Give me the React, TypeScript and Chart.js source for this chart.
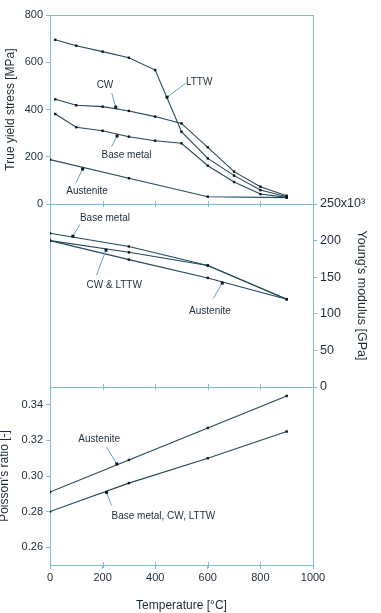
import React, { useEffect, useRef } from 'react';
import { Chart, registerables } from 'chart.js';

Chart.register(...registerables);

// ---------------- data ----------------
const temperatureYield = [20, 100, 200, 300, 400, 500, 600, 700, 800, 900];
const yieldLTTW = [695, 670, 645, 619, 567, 306, 193, 120, 59, 31];
const yieldCW = [443, 418, 412, 394, 370, 341, 240, 137, 73, 35];
const yieldBaseMetal = [381, 325, 310, 285, 268, 257, 162, 93, 42, 28];
const temperatureAustenite = [0, 300, 600, 900];
const yieldAustenite = [188, 109, 31, 27];

const temperatureModulus = [0, 300, 600, 900];
const modulusBaseMetal = [210, 192, 166, 120];
const modulusCwLttw = [200, 184, 166, 120];
const modulusAustenite = [200, 174, 149, 120];

const temperaturePoisson = [0, 300, 600, 900];
const poissonAustenite = [0.291, 0.309, 0.327, 0.345];
const poissonBaseCwLttw = [0.28, 0.296, 0.31, 0.325];

const temperatureTicks = [0, 200, 400, 600, 800, 1000];
const stressTicks = [0, 200, 400, 600, 800];
const modulusTicks = [0, 50, 100, 150, 200, 250];
const poissonTicks = [0.26, 0.28, 0.3, 0.32, 0.34];

// curve labels (in data units of the panel's axis)
const curveLabels = [
  { text: 'LTTW', axis: 'yS', at: [567, 516], from: [516, 511], to: [445, 452] },
  { text: 'CW', axis: 'yS', at: [209, 502], from: [235, 469], to: [250, 410] },
  { text: 'Base metal', axis: 'yS', at: [291, 206], from: [234, 243], to: [255, 288] },
  { text: 'Austenite', axis: 'yS', at: [141, 55], from: [99, 90], to: [124, 148] },
  { text: 'Base metal', axis: 'yY', at: [209, 230], from: [114, 222], to: [87, 206] },
  { text: 'CW & LTTW', axis: 'yY', at: [244, 138.5], from: [177, 153], to: [213, 187] },
  { text: 'Austenite', axis: 'yY', at: [608, 104], from: [621, 121], to: [655, 142] },
  { text: 'Austenite', axis: 'yP', at: [187, 0.3209], from: [215, 0.3162], to: [254, 0.3068] },
  { text: 'Base metal, CW, LTTW', axis: 'yP', at: [431, 0.2774], from: [234, 0.2834], to: [215, 0.2908] },
];

// ---------------- style ----------------
const AXIS = '#7dbde0';
const TEXT = '#1d2b3a';
const LINE = '#22485c';
const MARK = '#10161c';
const POINTER = '#5aa6d2';
const FONT = "'Liberation Sans', Arial, sans-serif";
const CLEAR = 'rgba(0,0,0,0)';

const toPoints = (xs: number[], ys: number[]) => xs.map((x, i) => ({ x, y: ys[i] }));

function series(label: string, xs: number[], ys: number[], yAxisID: string) {
  return {
    label,
    data: toPoints(xs, ys),
    xAxisID: 'x',
    yAxisID,
    borderColor: LINE,
    borderWidth: 1.1,
    pointStyle: 'rect',
    pointRadius: 1.7,
    pointBackgroundColor: MARK,
    pointBorderColor: MARK,
    pointBorderWidth: 0,
    tension: 0,
    fill: false,
  };
}

const fixTicks = (values: number[]) => (scale: any) => {
  scale.ticks = values.map((v) => ({ value: v }));
};
const edgeGrid = (edges: number[]) => (ctx: any) =>
  ctx.tick && edges.includes(ctx.tick.value) ? AXIS : CLEAR;

const leftWidth = (s: any) => {
  s.width = 50;
};
const rightWidth = (s: any) => {
  s.width = 68;
};

// small temperature tick marks on every panel boundary
const panelTickPlugin = {
  id: 'panelTicks',
  beforeDatasetsDraw(chart: any) {
    const { ctx } = chart;
    const xs = chart.scales.x;
    const edges = [chart.scales.yS.bottom, chart.scales.yY.bottom, chart.chartArea.bottom];
    ctx.save();
    ctx.strokeStyle = AXIS;
    ctx.lineWidth = 1;
    ctx.beginPath();
    for (const y of edges) {
      for (const t of temperatureTicks) {
        if (t === temperatureTicks[0] || t === temperatureTicks[temperatureTicks.length - 1]) continue;
        const x = Math.round(xs.getPixelForValue(t)) + 0.5;
        ctx.moveTo(x, y - 3);
        ctx.lineTo(x, y + 3);
      }
    }
    ctx.stroke();
    ctx.restore();
  },
};

const labelPlugin = {
  id: 'curveLabels',
  afterDatasetsDraw(chart: any) {
    const { ctx } = chart;
    const xs = chart.scales.x;
    ctx.save();
    for (const a of curveLabels) {
      const ys = chart.scales[a.axis];
      const fx = xs.getPixelForValue(a.from[0]);
      const fy = ys.getPixelForValue(a.from[1]);
      const tx = xs.getPixelForValue(a.to[0]);
      const ty = ys.getPixelForValue(a.to[1]);
      ctx.strokeStyle = POINTER;
      ctx.lineWidth = 1;
      ctx.beginPath();
      ctx.moveTo(fx, fy);
      ctx.lineTo(tx, ty);
      ctx.stroke();
      ctx.fillStyle = MARK;
      ctx.fillRect(tx - 1.5, ty - 1.5, 3, 3);
      ctx.fillStyle = TEXT;
      ctx.font = `10px ${FONT}`;
      ctx.textAlign = 'center';
      ctx.textBaseline = 'middle';
      ctx.fillText(a.text, xs.getPixelForValue(a.at[0]), ys.getPixelForValue(a.at[1]));
    }
    ctx.restore();
  },
};

export default function App() {
  const ref = useRef<HTMLCanvasElement>(null);

  useEffect(() => {
    const canvas = ref.current;
    if (!canvas) return;
    const tickFont = { family: FONT, size: 11 };
    const chart = new Chart(canvas, {
      type: 'line',
      data: {
        datasets: [
          series('LTTW', temperatureYield, yieldLTTW, 'yS'),
          series('CW', temperatureYield, yieldCW, 'yS'),
          series('Base metal', temperatureYield, yieldBaseMetal, 'yS'),
          series('Austenite', temperatureAustenite, yieldAustenite, 'yS'),
          series('Base metal E', temperatureModulus, modulusBaseMetal, 'yY'),
          series('CW & LTTW E', temperatureModulus, modulusCwLttw, 'yY'),
          series('Austenite E', temperatureModulus, modulusAustenite, 'yY'),
          series('Austenite nu', temperaturePoisson, poissonAustenite, 'yP'),
          series('Base metal, CW, LTTW nu', temperaturePoisson, poissonBaseCwLttw, 'yP'),
        ] as any,
      },
      options: {
        responsive: false,
        animation: false,
        devicePixelRatio: 1,
        layout: { padding: { top: 15, left: 0, right: 0, bottom: 0 } },
        plugins: {
          legend: { display: false },
          tooltip: { enabled: false },
        },
        scales: {
          x: {
            type: 'linear',
            position: 'bottom',
            min: 0,
            max: 1000,
            afterBuildTicks: fixTicks(temperatureTicks),
            afterFit: (s: any) => {
              s.height = 48;
            },
            grid: { drawOnChartArea: false, drawTicks: true, tickLength: 4, tickColor: AXIS, color: AXIS },
            border: { display: true, color: AXIS, width: 1 },
            ticks: {
              color: TEXT,
              font: tickFont,
              padding: 2,
              maxRotation: 0,
              autoSkip: false,
              callback: (v: any) => String(v),
            },
            title: {
              display: true,
              text: 'Temperature [°C]',
              color: TEXT,
              font: { family: FONT, size: 12 },
              padding: { top: 2, bottom: 0 },
            },
          },
          yS: {
            type: 'linear',
            position: 'left',
            stack: 'panels',
            stackWeight: 189,
            weight: 3,
            min: 0,
            max: 800,
            afterBuildTicks: fixTicks(stressTicks),
            afterFit: leftWidth,
            grid: { color: edgeGrid([0, 800]), tickColor: AXIS, tickLength: 4, drawTicks: true },
            border: { display: true, color: AXIS, width: 1 },
            ticks: { color: TEXT, font: tickFont, padding: 3 },
            title: {
              display: true,
              text: 'True yield stress [MPa]',
              color: TEXT,
              font: { family: FONT, size: 12 },
              padding: { top: 3, bottom: 0 },
            },
          },
          yML: {
            type: 'linear',
            position: 'left',
            stack: 'panels',
            stackWeight: 183,
            weight: 2,
            min: 0,
            max: 1,
            afterFit: leftWidth,
            grid: { drawOnChartArea: false, drawTicks: false },
            border: { display: true, color: AXIS, width: 1 },
            ticks: { display: false },
          },
          yP: {
            type: 'linear',
            position: 'left',
            stack: 'panels',
            stackWeight: 178,
            weight: 1,
            min: 0.25,
            max: 0.35,
            afterBuildTicks: fixTicks(poissonTicks),
            afterFit: leftWidth,
            grid: { color: CLEAR, tickColor: AXIS, tickLength: 4, drawTicks: true },
            border: { display: true, color: AXIS, width: 1 },
            ticks: {
              color: TEXT,
              font: tickFont,
              padding: 3,
              callback: (v: any) => Number(v).toFixed(2),
            },
            title: {
              display: true,
              text: "Poisson's ratio [-]",
              color: TEXT,
              font: { family: FONT, size: 12 },
              padding: { top: -3, bottom: 0 },
            },
          },
          yRT: {
            type: 'linear',
            position: 'right',
            stack: 'panels',
            stackWeight: 189,
            weight: 1,
            min: 0,
            max: 1,
            afterFit: rightWidth,
            grid: { drawOnChartArea: false, drawTicks: false },
            border: { display: true, color: AXIS, width: 1 },
            ticks: { display: false },
          },
          yY: {
            type: 'linear',
            position: 'right',
            stack: 'panels',
            stackWeight: 183,
            weight: 2,
            min: 0,
            max: 250,
            afterBuildTicks: fixTicks(modulusTicks),
            afterFit: rightWidth,
            grid: { color: edgeGrid([0]), tickColor: AXIS, tickLength: 4, drawTicks: true },
            border: { display: true, color: AXIS, width: 1 },
            ticks: {
              color: TEXT,
              font: { family: FONT, size: 12.5 },
              padding: 3,
              callback: (v: any) => (Number(v) === 250 ? '250x10³' : String(v)),
            },
            title: {
              display: true,
              text: "Young's modulus [GPa]",
              color: TEXT,
              font: { family: FONT, size: 12.5 },
              padding: { top: 12, bottom: 0 },
            },
          },
          yRB: {
            type: 'linear',
            position: 'right',
            stack: 'panels',
            stackWeight: 178,
            weight: 3,
            min: 0,
            max: 1,
            afterFit: rightWidth,
            grid: { drawOnChartArea: false, drawTicks: false },
            border: { display: true, color: AXIS, width: 1 },
            ticks: { display: false },
          },
        } as any,
      },
      plugins: [panelTickPlugin, labelPlugin],
    });
    return () => chart.destroy();
  }, []);

  return (
    <div style={{ position: 'fixed', left: 0, top: 0, width: 381, height: 613, background: '#ffffff' }}>
      <canvas ref={ref} width={381} height={613} style={{ display: 'block', width: 381, height: 613 }} />
    </div>
  );
}
